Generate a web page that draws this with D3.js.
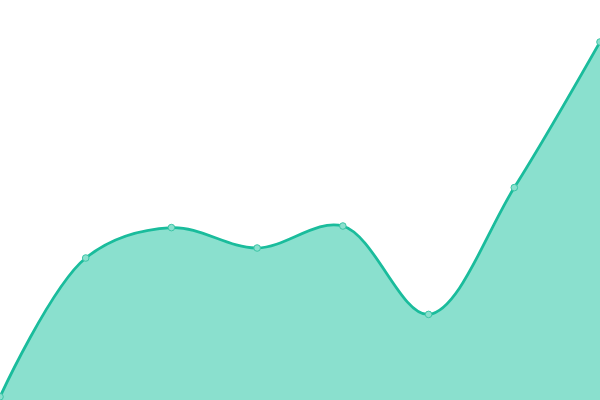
<!DOCTYPE html>
<html>
<head>
<meta charset="utf-8">
<script src="https://cdn.jsdelivr.net/npm/d3@7"></script>
<style>
  html, body { margin: 0; padding: 0; background: #fff; }
  svg { display: block; }
</style>
</head>
<body>
<div id="chart"></div>
<script>
// values (domain 0-100, no axes shown)
var categories = ["A", "B", "C", "D", "E", "F", "G", "H"];
var values = [0.8, 35.5, 43.1, 38, 43.5, 21.4, 53.1, 89.5];

var svgWidth = 600;
var svgHeight = 400;

var svg = d3.select("#chart")
    .append("svg")
    .attr("width", svgWidth)
    .attr("height", svgHeight);

var data = categories.map(function (c, i) {
    return { cat: c, val: values[i] };
});

var xScale = d3.scalePoint()
    .domain(categories)
    .range([0, svgWidth]);

var yScale = d3.scaleLinear()
    .domain([0, 100])
    .range([svgHeight, 0]);

var area = d3.area()
    .x(d => xScale(d.cat))
    .y0(yScale(0))
    .y1(d => yScale(d.val))
    .curve(d3.curveCatmullRom);

var line = d3.line()
    .x(d => xScale(d.cat))
    .y(d => yScale(d.val))
    .curve(d3.curveCatmullRom);

svg.append("path")
    .datum(data)
    .attr("d", area)
    .attr("fill", "#8ae0ce");

svg.append("path")
    .datum(data)
    .attr("d", line)
    .attr("fill", "none")
    .attr("stroke", "#1abc9c")
    .attr("stroke-width", 2.8);

svg.selectAll("circle")
    .data(data)
    .enter()
    .append("circle")
    .attr("cx", d => xScale(d.cat))
    .attr("cy", d => yScale(d.val))
    .attr("r", 3.3)
    .attr("fill", "#8ae0ce")
    .attr("stroke", "#3cc5a6")
    .attr("stroke-width", 1);
</script>
</body>
</html>
